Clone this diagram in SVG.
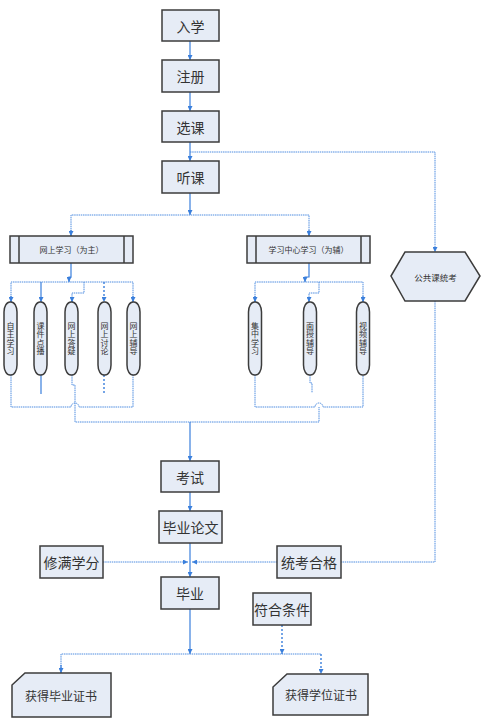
<svg xmlns="http://www.w3.org/2000/svg" width="500" height="719" viewBox="0 0 500 719">
<style>
.box{fill:#e6ecf6;stroke:#3c3c3c;stroke-width:1.5}
.t{font-family:"Noto Sans CJK SC","Noto Sans",sans-serif;fill:#333;text-anchor:middle;dominant-baseline:central}
.big{font-size:14px}
.sm{font-size:8px}
.v{font-family:"Noto Sans CJK SC","Noto Sans",sans-serif;fill:#333;font-size:8px;writing-mode:vertical-rl;text-anchor:middle;dominant-baseline:central;letter-spacing:0.5px}
.ln{fill:none;stroke:#3a7fdc;stroke-width:1.2}
.lt{fill:none;stroke:#4f8de0;stroke-width:1;stroke-dasharray:1.5 0.7}
.dt{fill:none;stroke:#3a7fdc;stroke-width:1.4;stroke-dasharray:2 2}
</style>
<defs>
<marker id="a" viewBox="0 0 6 6" refX="6" refY="3" markerWidth="5" markerHeight="5" markerUnits="userSpaceOnUse" orient="auto">
<path d="M0,0 L6,3 L0,6 z" fill="#3a7fdc"/>
</marker>
</defs>
<rect width="500" height="719" fill="#fff"/>
<g id="connectors">
<path class="ln" d="M190,41 V60" marker-end="url(#a)"/>
<path class="ln" d="M190,92 V111" marker-end="url(#a)"/>
<path class="ln" d="M190,142 V161" marker-end="url(#a)"/>
<path class="lt" d="M190,152 H435 V252" marker-end="url(#a)"/>
<path class="ln" d="M190,193 V215" marker-end="url(#a)"/>
<path class="lt" d="M71,236 V215 H309 V236"/>
<path class="ln" d="M71,230 V236" marker-end="url(#a)"/>
<path class="ln" d="M309,230 V236" marker-end="url(#a)"/>
<path class="ln" d="M71,263 V277 H69 V282" marker-end="url(#a)"/>
<path class="lt" d="M11,302 V282 H133 V302"/>
<path class="ln" d="M11,296 V302" marker-end="url(#a)"/>
<path class="ln" d="M133,296 V302" marker-end="url(#a)"/>
<path class="ln" d="M41,282 V302" marker-end="url(#a)"/>
<path class="dt" d="M104,282 V302" marker-end="url(#a)"/>
<path class="lt" d="M84,282 V293 H72 V302"/>
<path class="ln" d="M72,297 V302" marker-end="url(#a)"/>
<path class="ln" d="M309,263 V277 H305 V282" marker-end="url(#a)"/>
<path class="lt" d="M255,302 V282 H363 V302"/>
<path class="ln" d="M255,296 V302" marker-end="url(#a)"/>
<path class="ln" d="M363,296 V302" marker-end="url(#a)"/>
<path class="lt" d="M319,282 V293 H309 V302"/>
<path class="ln" d="M309,297 V302" marker-end="url(#a)"/>
<path class="lt" d="M11,375 V407 H71 A4,4 0 0 1 79,407 H133 V375"/>
<path class="ln" d="M41,375 V394"/>
<path class="dt" d="M104,375 V394"/>
<path class="lt" d="M72,375 V385 H75 V422 H319 V407"/>
<path class="lt" d="M255,375 V407 H315 A4,4 0 0 1 323,407 H363 V375"/>
<path class="lt" d="M310,375 V383 H312 V393"/>
<path class="ln" d="M190,422 V461" marker-end="url(#a)"/>
<path class="ln" d="M190,492 V511" marker-end="url(#a)"/>
<path class="ln" d="M190,543 V577" marker-end="url(#a)"/>
<path class="lt" d="M435,301 V562 H341"/>
<path class="lt" d="M103,562 H188" marker-end="url(#a)"/>
<path class="lt" d="M277,562 H192" marker-end="url(#a)"/>
<path class="ln" d="M190,609 V654" marker-end="url(#a)"/>
<path class="lt" d="M61,673 V654 H321"/>
<path class="ln" d="M61,665 V673" marker-end="url(#a)"/>
<path class="dt" d="M321,654 V674" marker-end="url(#a)"/>
<path class="dt" d="M282,625 V654" marker-end="url(#a)"/>
</g>
<g id="n-ruxue"><rect class="box" x="162" y="10" width="57" height="31"/><text class="t big" x="190.5" y="25.5">入学</text></g>
<g id="n-zhuce"><rect class="box" x="162" y="60" width="57" height="32"/><text class="t big" x="190.5" y="76">注册</text></g>
<g id="n-xuanke"><rect class="box" x="162" y="111" width="57" height="31"/><text class="t big" x="190.5" y="126.5">选课</text></g>
<g id="n-tingke"><rect class="box" x="162" y="161" width="57" height="32"/><text class="t big" x="190.5" y="177">听课</text></g>
<g id="n-wangshang"><rect class="box" x="10" y="236" width="123" height="27"/><path d="M19,236 V263 M124,236 V263" stroke="#3c3c3c" stroke-width="1.5"/><text class="t sm" x="71.5" y="249.5">网上学习（为主）</text></g>
<g id="n-zhongxin"><rect class="box" x="247" y="236" width="123" height="27"/><path d="M256,236 V263 M361,236 V263" stroke="#3c3c3c" stroke-width="1.5"/><text class="t sm" x="308.5" y="249.5">学习中心学习（为辅）</text></g>
<g id="n-gonggong"><polygon class="box" points="391,276 405,252 465,252 480,276 465,301 405,301"/><text class="t" font-size="8.5" x="435.5" y="276.5">公共课统考</text></g>
<g id="n-zizhu"><rect class="box" x="4" y="302" width="13" height="73" rx="6" ry="10"/><text class="v" x="10.5" y="338.5">自主学习</text></g>
<g id="n-kejian"><rect class="box" x="34" y="302" width="13" height="73" rx="6" ry="10"/><text class="v" x="40.5" y="338.5">课件点播</text></g>
<g id="n-dayi"><rect class="box" x="65" y="302" width="13" height="73" rx="6" ry="10"/><text class="v" x="71.5" y="338.5">网上答疑</text></g>
<g id="n-taolun"><rect class="box" x="98" y="302" width="13" height="73" rx="6" ry="10"/><text class="v" x="104.5" y="338.5">网上讨论</text></g>
<g id="n-fudao"><rect class="box" x="127" y="302" width="13" height="73" rx="6" ry="10"/><text class="v" x="133.5" y="338.5">网上辅导</text></g>
<g id="n-jizhong"><rect class="box" x="248.5" y="302" width="13" height="73" rx="6" ry="10"/><text class="v" x="255" y="338.5">集中学习</text></g>
<g id="n-mianshou"><rect class="box" x="303.5" y="302" width="13" height="73" rx="6" ry="10"/><text class="v" x="310" y="338.5">面授辅导</text></g>
<g id="n-shipin"><rect class="box" x="356.5" y="302" width="13" height="73" rx="6" ry="10"/><text class="v" x="363" y="338.5">视频辅导</text></g>
<g id="n-kaoshi"><rect class="box" x="161" y="461" width="58" height="31"/><text class="t big" x="190" y="476.5">考试</text></g>
<g id="n-lunwen"><rect class="box" x="159" y="511" width="63" height="32"/><text class="t big" x="190.5" y="527">毕业论文</text></g>
<g id="n-xueman"><rect class="box" x="40" y="546" width="63" height="32"/><text class="t big" x="71.5" y="562">修满学分</text></g>
<g id="n-tongkao"><rect class="box" x="277" y="546" width="64" height="32"/><text class="t big" x="309" y="562">统考合格</text></g>
<g id="n-biye"><rect class="box" x="161" y="577" width="58" height="32"/><text class="t big" x="190" y="593">毕业</text></g>
<g id="n-fuhe"><rect class="box" x="253" y="593" width="58" height="32"/><text class="t big" x="282" y="609">符合条件</text></g>
<g id="n-biyezheng"><polygon class="box" points="12,685 25,673 111,673 111,717 12,717"/><text class="t" font-size="12" x="61" y="695">获得毕业证书</text></g>
<g id="n-xuewei"><polygon class="box" points="273,687 287,674 368,674 368,715 273,715"/><text class="t" font-size="12" x="321" y="694">获得学位证书</text></g>
</svg>
